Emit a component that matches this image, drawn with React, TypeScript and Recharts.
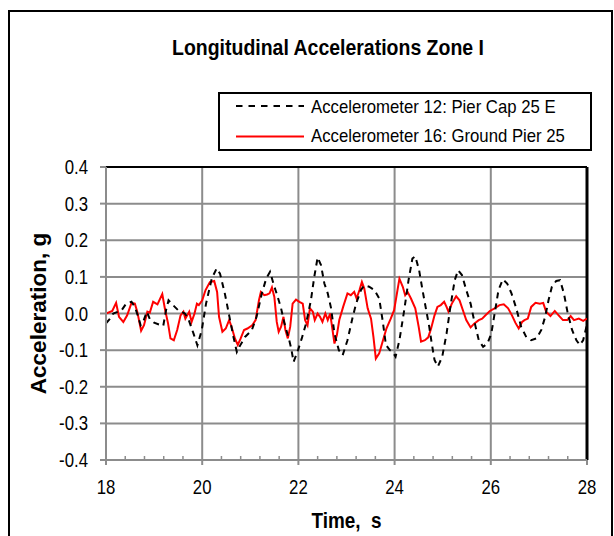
import React from 'react';
import { LineChart, Line, XAxis, YAxis, CartesianGrid, ReferenceLine, Legend } from 'recharts';

const FONT = '"Liberation Sans", Arial, Helvetica, sans-serif';

const chartTitle = 'Longitudinal Accelerations Zone I';
const xTitle = 'Time,\u00a0 s';
const yTitle = 'Acceleration, g';
const seriesNames = ['Accelerometer 12: Pier Cap 25 E', 'Accelerometer 16: Ground Pier 25'];

const xTicks = [18, 20, 22, 24, 26, 28];
const xMinorTicks = [18.4, 18.8, 19.2, 19.6, 20.4, 20.8, 21.2, 21.6, 22.4, 22.8, 23.2, 23.6, 24.4, 24.8, 25.2, 25.6, 26.4, 26.8, 27.2, 27.6];
const yTicks = [-0.4, -0.3, -0.2, -0.1, 0, 0.1, 0.2, 0.3, 0.4];

// Accelerometer 12 (black dashed)
const acc12Time = [
  18.0, 18.08, 18.15, 18.25, 18.33, 18.42, 18.53, 18.6, 18.66, 18.72, 18.78, 18.85, 18.91, 19.0, 19.1, 19.19,
  19.25, 19.3, 19.4, 19.5, 19.64, 19.71, 19.82, 19.9, 19.99, 20.08, 20.2, 20.3, 20.37, 20.47, 20.58, 20.65,
  20.72, 20.79, 20.89, 21.03, 21.13, 21.24, 21.33, 21.41, 21.48, 21.57, 21.64, 21.71, 21.8, 21.85, 21.9, 21.98,
  22.07, 22.16, 22.26, 22.33, 22.4, 22.47, 22.54, 22.61, 22.68, 22.75, 22.84, 22.92, 23.02, 23.13, 23.2, 23.25,
  23.3, 23.37, 23.47, 23.58, 23.68, 23.75, 23.82, 23.9, 23.96, 24.02, 24.1, 24.2, 24.29, 24.37, 24.43, 24.51,
  24.58, 24.65, 24.72, 24.77, 24.83, 24.9, 24.99, 25.08, 25.17, 25.25, 25.32, 25.4, 25.49, 25.58, 25.66, 25.75,
  25.84, 25.93, 26.01, 26.08, 26.16, 26.25, 26.34, 26.43, 26.53, 26.63, 26.74, 26.84, 26.95, 27.05, 27.13, 27.2,
  27.27, 27.36, 27.44, 27.52, 27.6, 27.69, 27.78, 27.85, 27.92, 28.0,
];
const acc12Values = [
  -0.027, -0.015, 0.0, 0.005, 0.01, 0.027, 0.032, 0.018, -0.005, -0.032, -0.02, 0.005, -0.015, -0.025, -0.03, -0.034,
  0.01, 0.036, 0.022, 0.009, 0.0, -0.014, -0.055, -0.087, -0.046, 0.027, 0.096, 0.123, 0.109, 0.055, -0.018, -0.064,
  -0.105, -0.087, -0.064, -0.046, -0.009, 0.055, 0.095, 0.114, 0.082, 0.045, 0.014, -0.027, -0.068, -0.095, -0.132, -0.105,
  -0.068, -0.027, 0.036, 0.1, 0.153, 0.132, 0.082, 0.055, 0.014, -0.055, -0.1, -0.114, -0.073, -0.009, 0.027, 0.045,
  0.064, 0.077, 0.073, 0.064, 0.041, -0.018, -0.086, -0.1, -0.105, -0.118, -0.073, 0.009, 0.091, 0.15, 0.156, 0.118,
  0.064, 0.014, -0.036, -0.08, -0.127, -0.145, -0.118, -0.055, 0.027, 0.091, 0.118, 0.105, 0.064, 0.027, -0.023, -0.073,
  -0.091, -0.082, -0.055, 0.0, 0.064, 0.093, 0.082, 0.055, 0.014, -0.036, -0.065, -0.073, -0.068, -0.045, -0.009, 0.036,
  0.073, 0.089, 0.091, 0.055, 0.0, -0.045, -0.073, -0.086, -0.073, -0.03,
];

// Accelerometer 16 (red solid)
const acc16Time = [
  18.0, 18.13, 18.21, 18.27, 18.36, 18.44, 18.53, 18.6, 18.65, 18.73, 18.79, 18.86, 18.91, 18.98, 19.07, 19.17,
  19.23, 19.29, 19.34, 19.41, 19.48, 19.55, 19.61, 19.65, 19.73, 19.78, 19.84, 19.89, 19.93, 20.0, 20.07, 20.16,
  20.25, 20.31, 20.35, 20.42, 20.49, 20.56, 20.61, 20.68, 20.74, 20.8, 20.87, 20.94, 21.04, 21.11, 21.18, 21.22,
  21.29, 21.35, 21.4, 21.45, 21.5, 21.55, 21.59, 21.64, 21.69, 21.73, 21.78, 21.83, 21.88, 21.95, 22.02, 22.09,
  22.14, 22.19, 22.24, 22.3, 22.34, 22.4, 22.45, 22.5, 22.56, 22.61, 22.66, 22.69, 22.75, 22.8, 22.85, 22.93,
  23.02, 23.09, 23.16, 23.21, 23.27, 23.32, 23.37, 23.44, 23.51, 23.56, 23.61, 23.68, 23.75, 23.83, 23.92, 23.99,
  24.06, 24.1, 24.17, 24.22, 24.27, 24.34, 24.43, 24.5, 24.55, 24.63, 24.7, 24.76, 24.83, 24.89, 24.96, 25.03,
  25.08, 25.12, 25.19, 25.28, 25.35, 25.42, 25.49, 25.58, 25.66, 25.75, 25.82, 25.89, 25.98, 26.08, 26.18, 26.27,
  26.36, 26.44, 26.51, 26.58, 26.65, 26.7, 26.77, 26.84, 26.93, 27.02, 27.09, 27.15, 27.24, 27.33, 27.41, 27.5,
  27.59, 27.66, 27.73, 27.83, 27.92, 28.0,
];
const acc16Values = [
  0.0, 0.007, 0.029, -0.009, -0.023, -0.005, 0.029, 0.027, 0.005, -0.047, -0.032, 0.005, 0.002, 0.032, 0.025, 0.053,
  0.009, -0.027, -0.068, -0.073, -0.045, -0.005, 0.005, -0.014, 0.005, -0.023, 0.0, 0.027, 0.023, 0.036, 0.064, 0.086,
  0.089, 0.059, -0.009, -0.05, -0.041, -0.018, -0.036, -0.068, -0.086, -0.068, -0.045, -0.041, -0.032, -0.018, 0.036, 0.059,
  0.05, 0.052, 0.055, 0.071, 0.045, -0.023, -0.05, -0.036, -0.009, -0.045, -0.068, -0.036, 0.027, 0.038, 0.032, 0.027,
  -0.018, -0.032, 0.014, 0.005, -0.018, 0.0, -0.009, -0.023, 0.0, -0.018, 0.0, -0.027, -0.082, -0.059, -0.018, 0.018,
  0.055, 0.05, 0.059, 0.041, 0.064, 0.086, 0.068, 0.014, -0.014, -0.064, -0.123, -0.109, -0.077, -0.041, -0.014, 0.009,
  0.064, 0.095, 0.073, 0.05, 0.059, 0.041, 0.014, -0.036, -0.077, -0.073, -0.065, -0.04, -0.005, 0.018, 0.023, 0.032,
  0.018, 0.005, 0.027, 0.047, 0.036, 0.009, -0.018, -0.038, -0.027, -0.018, -0.014, -0.005, 0.007, 0.014, 0.023, 0.025,
  0.014, -0.005, -0.025, -0.041, -0.023, -0.018, -0.014, 0.018, 0.029, 0.027, 0.029, 0.005, -0.007, 0.007, -0.005, -0.018,
  -0.018, -0.007, -0.018, -0.014, -0.02, -0.014,
];

const acc12Data = acc12Time.map((t, i) => ({ t, v: acc12Values[i] }));
const acc16Data = acc16Time.map((t, i) => ({ t, v: acc16Values[i] }));

const GRID = '#8c8c8c';
const TICK_FONT = 20;
const TICK_SX = 0.84;

const renderLegend = () => (
  <svg width={374} height={59} style={{ display: 'block' }}>
    <rect x={1} y={1} width={372} height={57} fill="#fff" stroke="#000" strokeWidth={2} />
    <line x1={18} y1={14} x2={86} y2={14} stroke="#000" strokeWidth={2} strokeDasharray="6.5 6" />
    <text transform="translate(93 20.5) scale(0.93 1)" fontFamily={FONT} fontSize={18} fill="#000">{seriesNames[0]}</text>
    <line x1={18} y1={44.5} x2={86} y2={44.5} stroke="#ff0000" strokeWidth={2} />
    <text transform="translate(93 50) scale(0.93 1)" fontFamily={FONT} fontSize={18} fill="#000">{seriesNames[1]}</text>
  </svg>
);

const YTick = (props: any) => {
  const { x, y, payload } = props;
  const by = y + 0.355 * TICK_FONT;
  return (
    <text transform={`translate(${x} ${by}) scale(${TICK_SX} 1)`} textAnchor="end" fontFamily={FONT} fontSize={TICK_FONT} fill="#000">
      {Number(payload.value).toFixed(1)}
    </text>
  );
};

const XTick = (props: any) => {
  const { x, y, payload } = props;
  const by = y + 0.7 * TICK_FONT;
  return (
    <text transform={`translate(${x} ${by}) scale(${TICK_SX} 1)`} textAnchor="middle" fontFamily={FONT} fontSize={TICK_FONT} fill="#000">
      {payload.value}
    </text>
  );
};

const renderYLabel = (props: any) => {
  const vb = props.viewBox || {};
  const cy = vb.y + vb.height / 2;
  const cx = 38;
  return (
    <text x={cx} y={cy} transform={`rotate(-90 ${cx} ${cy})`} textAnchor="middle" dominantBaseline="central"
      fontFamily={FONT} fontSize={22.5} fontWeight="bold" fill="#000">{yTitle}</text>
  );
};

const renderXLabel = (props: any) => {
  const vb = props.viewBox || {};
  const cx = vb.x + vb.width / 2;
  return (
    <text transform={`translate(${cx} 528) scale(0.88 1)`} textAnchor="middle" fontFamily={FONT} fontSize={21.5} fontWeight="bold" fill="#000">{xTitle}</text>
  );
};

export default function App() {
  return (
    <div style={{ position: 'absolute', left: 0, top: 0, width: 614, height: 536, overflow: 'hidden', background: '#fff', fontFamily: FONT }}>
      <div style={{ position: 'absolute', left: 8, top: 10, width: 605, height: 600, border: '2px solid #000', boxSizing: 'border-box' }} />
      <div style={{ position: 'absolute', left: 128, top: 37, width: 400, lineHeight: '22px', textAlign: 'center', fontSize: 22, fontWeight: 'bold', color: '#000', whiteSpace: 'nowrap', transform: 'scaleX(0.885)', transformOrigin: '200px 0' }}>
        {chartTitle}
      </div>
      <div style={{ position: 'absolute', left: 0, top: 0 }}>
        <LineChart width={614} height={536} margin={{ top: 167, right: 27, bottom: 46, left: 46 }}>
          <CartesianGrid stroke={GRID} strokeWidth={2} />
          <XAxis
            dataKey="t"
            type="number"
            domain={[18, 28]}
            ticks={xTicks}
            allowDataOverflow
            height={30}
            tickSize={5}
            tickMargin={15}
            axisLine={{ stroke: GRID, strokeWidth: 2 }}
            tickLine={{ stroke: GRID, strokeWidth: 2 }}
            tick={<XTick />}
            label={renderXLabel}
          />
          <YAxis
            type="number"
            domain={[-0.4, 0.4]}
            ticks={yTicks}
            allowDataOverflow
            width={60}
            tickSize={6}
            tickMargin={12}
            axisLine={{ stroke: GRID, strokeWidth: 2 }}
            tickLine={{ stroke: GRID, strokeWidth: 2 }}
            tick={<YTick />}
            label={renderYLabel}
          />
          {xMinorTicks.map((t) => (
            <ReferenceLine key={t} segment={[{ x: t, y: -0.4 }, { x: t, y: -0.389 }]} stroke={GRID} strokeWidth={1.5} />
          ))}
          <ReferenceLine y={0.4} stroke="#000" strokeWidth={2} />
          <ReferenceLine x={28} stroke="#000" strokeWidth={3} />
          <Line data={acc16Data} dataKey="v" name={seriesNames[1]} type="linear" stroke="#ff0000" strokeWidth={2} dot={false} isAnimationActive={false} />
          <Line data={acc12Data} dataKey="v" name={seriesNames[0]} type="linear" stroke="#000" strokeWidth={2} strokeDasharray="6 5" dot={false} isAnimationActive={false} />
          <Legend layout="horizontal" verticalAlign="middle" align="center" wrapperStyle={{ left: 218, top: 92, width: 374, height: 59 }} content={renderLegend} />
        </LineChart>
      </div>
    </div>
  );
}
